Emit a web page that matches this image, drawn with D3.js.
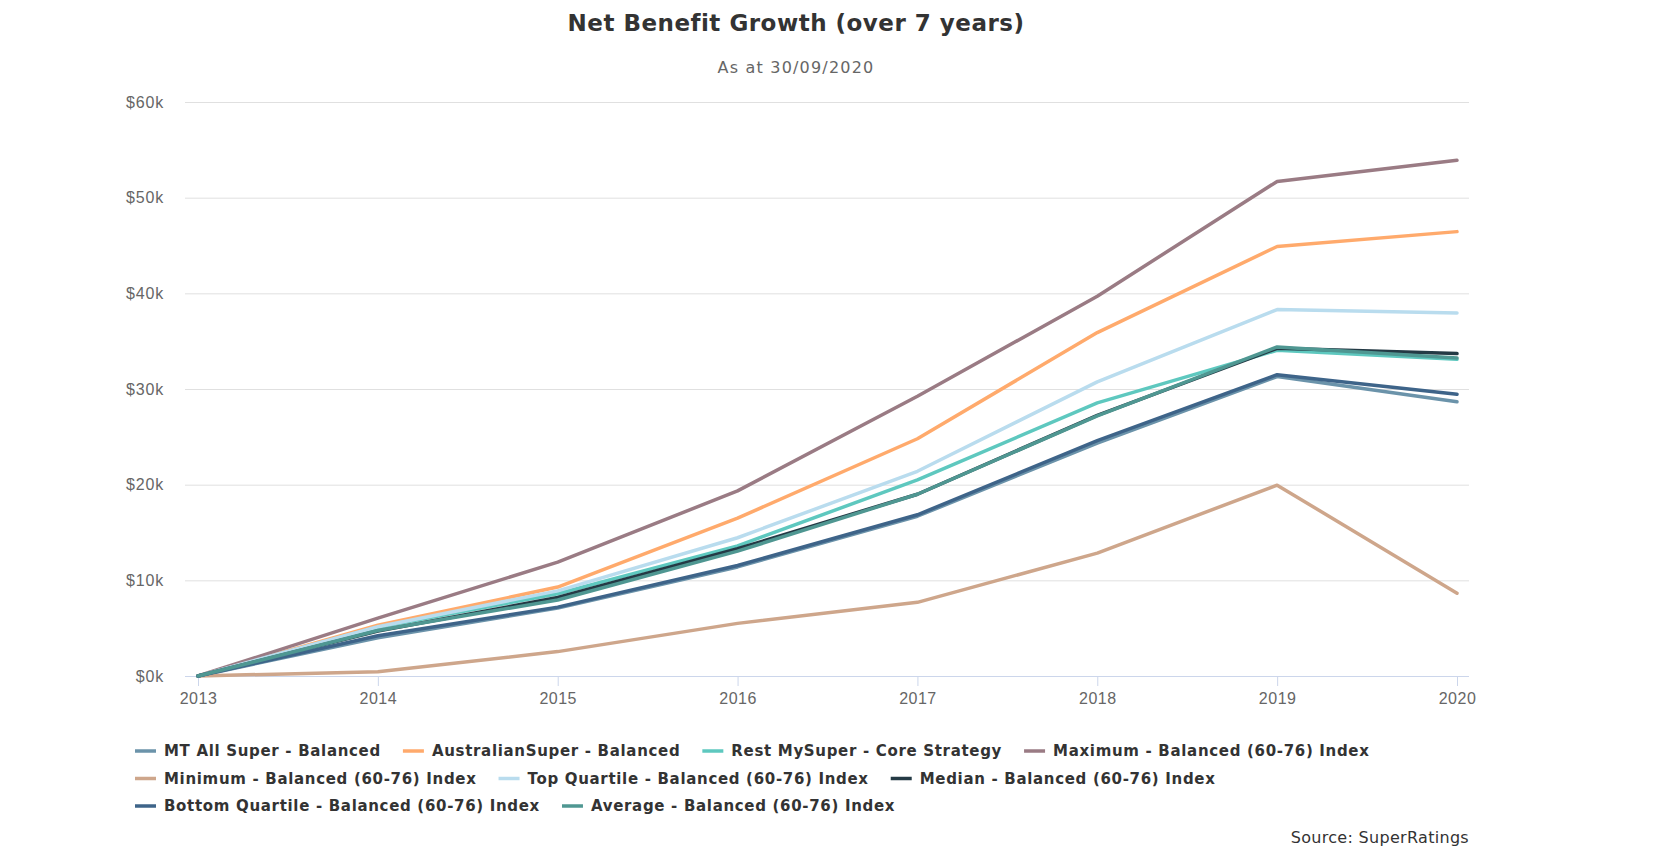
<!DOCTYPE html>
<html>
<head>
<meta charset="utf-8">
<script src="https://cdn.jsdelivr.net/npm/d3@7"></script>
<style>
  body { margin: 0; background: #fff; }
  svg { font-family: "DejaVu Sans", sans-serif; }
</style>
</head>
<body>
<svg id="chart"></svg>
<script>
// years on the x axis
var years = [2013, 2014, 2015, 2016, 2017, 2018, 2019, 2020];

// series values (dollars)
var mtAllSuper   = [0, 4000, 7100, 11400, 16700, 24350, 31300, 28660];
var ausSuper     = [0, 5300, 9300, 16500, 24800, 35900, 44900, 46450];
var restMySuper  = [0, 5100, 8600, 13600, 20500, 28550, 34050, 33100];
var maximum      = [0, 6050, 11900, 19350, 29250, 39700, 51700, 53900];
var minimum      = [0, 450, 2550, 5500, 7700, 12850, 19950, 8650];
var topQuartile  = [0, 5150, 8900, 14450, 21400, 30750, 38300, 37950];
var median       = [0, 4700, 8200, 13300, 19000, 27250, 34250, 33700];
var bottomQuart  = [0, 4200, 7200, 11550, 16850, 24600, 31500, 29450];
var average      = [0, 4750, 7950, 13050, 19000, 27200, 34400, 33250];

var seriesNames = [
    "MT All Super - Balanced",
    "AustralianSuper - Balanced",
    "Rest MySuper - Core Strategy",
    "Maximum - Balanced (60-76) Index",
    "Minimum - Balanced (60-76) Index",
    "Top Quartile - Balanced (60-76) Index",
    "Median - Balanced (60-76) Index",
    "Bottom Quartile - Balanced (60-76) Index",
    "Average - Balanced (60-76) Index"
];
var seriesValues = [mtAllSuper, ausSuper, restMySuper, maximum, minimum,
    topQuartile, median, bottomQuart, average];
var seriesColors = ["#6b93aa", "#ffaa6c", "#5ec8bf", "#9a7b84", "#cea68b",
    "#b9dcee", "#243a45", "#3e6489", "#4f9792"];

var yTicks = [0, 10000, 20000, 30000, 40000, 50000, 60000];

var W = 1655, H = 859;
var plot = { left: 185, right: 1469, top: 102, bottom: 676 };

var svg = d3.select("#chart").attr("width", W).attr("height", H);

// scales
var x = d3.scaleLinear().domain([2013, 2020]).range([198, 1457]);
var y = d3.scaleLinear().domain([0, 60000]).range([plot.bottom, plot.top]);

// titles
svg.append("text")
    .attr("x", 796).attr("y", 31)
    .attr("text-anchor", "middle")
    .style("font-size", "23px").style("font-weight", "bold")
    .style("letter-spacing", "0.5px")
    .style("fill", "#333")
    .text("Net Benefit Growth (over 7 years)");

svg.append("text")
    .attr("x", 796).attr("y", 73)
    .attr("text-anchor", "middle")
    .style("font-size", "16px").style("letter-spacing", "1.2px")
    .style("fill", "#666")
    .text("As at 30/09/2020");

// gridlines + y labels
var yAxis = svg.append("g")
    .attr("transform", "translate(" + plot.left + ",0)")
    .call(d3.axisLeft(y).tickValues(yTicks)
        .tickSize(-(plot.right - plot.left))
        .tickPadding(21)
        .tickFormat(d => "$" + d / 1000 + "k"));
yAxis.select(".domain").remove();
yAxis.selectAll(".tick line").attr("stroke", "#e0e0e0");
yAxis.selectAll(".tick text")
    .style("font-size", "16px").style("letter-spacing", "0.8px")
    .style("fill", "#666")
    .attr("font-family", null);

// x axis
var xAxis = svg.append("g")
    .attr("transform", "translate(0," + plot.bottom + ")")
    .call(d3.axisBottom(x).tickValues(years).tickSize(10).tickPadding(7)
        .tickFormat(d3.format("d")));
xAxis.select(".domain").attr("d", "M" + plot.left + ",0.5H" + plot.right)
    .attr("stroke", "#ccd6eb");
xAxis.selectAll(".tick line").attr("stroke", "#ccd6eb");
xAxis.selectAll(".tick text")
    .style("font-size", "16px").style("letter-spacing", "0.5px")
    .style("fill", "#666")
    .attr("font-family", null);

// lines
var line = d3.line()
    .x((d, i) => x(years[i]))
    .y(d => y(d));

svg.append("g").selectAll("path")
    .data(seriesValues)
    .enter()
    .append("path")
    .attr("d", d => line(d))
    .attr("fill", "none")
    .attr("stroke", (d, i) => seriesColors[i])
    .attr("stroke-width", 3.5)
    .attr("stroke-linejoin", "round")
    .attr("stroke-linecap", "round");

// legend, flowing left to right and wrapping
var legend = svg.append("g");
var lx = 135, ly = 756, maxX = 1480;
seriesNames.forEach(function(name, i) {
    var item = legend.append("g");
    item.append("line")
        .attr("x1", 0).attr("x2", 21)
        .attr("y1", -5).attr("y2", -5)
        .attr("stroke", seriesColors[i]).attr("stroke-width", 3.5);
    var t = item.append("text")
        .attr("x", 29).attr("y", 0)
        .style("font-size", "15px").style("font-weight", "bold")
        .style("letter-spacing", "0.68px")
        .style("fill", "#333")
        .text(name);
    var w = 29 + t.node().getComputedTextLength();
    if (lx + w > maxX) { lx = 135; ly += 27.5; }
    item.attr("transform", "translate(" + lx + "," + ly + ")");
    lx += w + 22;
});

// credit
svg.append("text")
    .attr("x", 1469).attr("y", 843)
    .attr("text-anchor", "end")
    .style("font-size", "16px").style("letter-spacing", "0.3px")
    .style("fill", "#333")
    .text("Source: SuperRatings");
</script>
</body>
</html>
